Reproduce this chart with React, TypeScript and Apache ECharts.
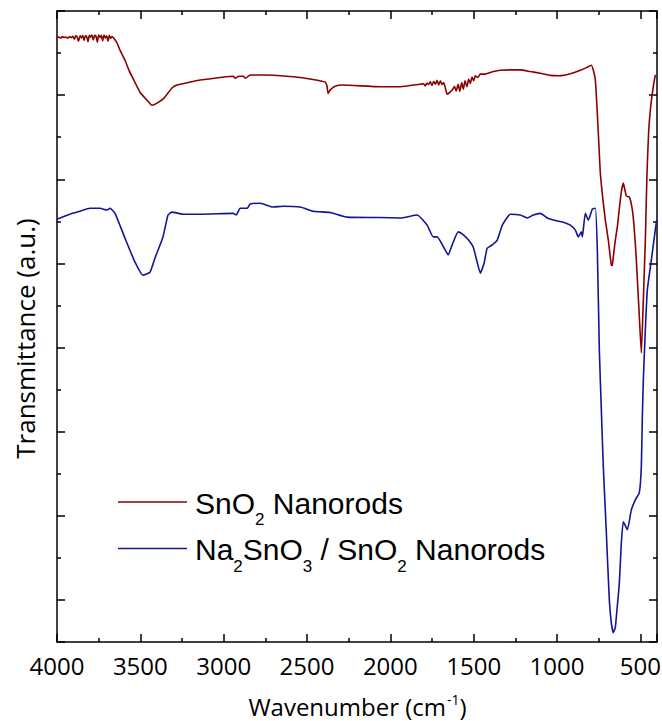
import React, { useEffect, useRef } from "react";
import * as echarts from "echarts";

// ---- data (wavenumber in cm^-1, transmittance in arbitrary units) ----
const redWn = [
  4000, 3990, 3978, 3968, 3956, 3946, 3935, 3925, 3915, 3905, 3896, 3888, 3880, 3871, 3862, 3854, 3846, 3838,
  3830, 3822, 3814, 3806, 3798, 3790, 3782, 3774, 3766, 3758, 3750, 3742, 3734, 3726, 3718, 3710, 3702, 3694,
  3686, 3678, 3670, 3660, 3640, 3622, 3592, 3568, 3538, 3502, 3460, 3430, 3400, 3358, 3310, 3280, 3202, 3141,
  2943, 2931, 2910, 2883, 2870, 2841, 2739, 2541, 2391, 2380, 2373, 2361, 2331, 2289, 2061, 1941,
  1821, 1800, 1790, 1780, 1770, 1760, 1750, 1740, 1730, 1720, 1710, 1700, 1690, 1680, 1671, 1659, 1645, 1629,
  1615, 1605, 1593, 1583, 1572, 1562, 1552, 1540, 1530, 1520, 1510, 1500, 1490, 1475, 1460, 1430, 1400, 1340,
  1280, 1220, 1160, 1100, 1040, 990, 950, 900, 860, 820, 794, 782, 770, 760, 750, 740, 724, 710, 692, 674, 668,
  662, 650, 638, 626, 614, 602, 590, 584, 566, 548, 536, 524, 506, 494, 482, 470, 460, 450, 440, 430, 420, 410,
  400,
];
const redT = [
  143.7, 143.8, 143.6, 143.9, 143.7, 143.8, 143.5, 143.9, 143.7, 144.0, 143.3, 144.1, 143.9, 142.8, 144.1, 143.6,
  144.2, 143.0, 144.1, 143.9, 142.7, 144.2, 143.8, 144.3, 143.1, 144.2, 144.0, 142.6, 144.3, 143.7, 144.2, 142.9,
  144.3, 143.6, 144.1, 142.8, 144.2, 143.5, 143.9, 143.6, 142.4, 140.7, 138.3, 135.9, 133.5, 130.7, 128.8, 127.6,
  128.1, 129.3, 131.7, 132.4, 133.1, 133.6, 134.5, 134.0, 134.5, 134.5, 134.0, 134.8, 134.8, 134.2, 133.1, 132.1,
  130.4, 131.2, 132.1, 132.4, 132.0, 132.0, 132.6, 132.7, 132.2, 132.9, 132.5, 133.2, 132.3, 133.3, 132.6, 133.5,
  132.4, 133.4, 132.5, 133.0, 131.9, 130.2, 130.6, 131.2, 132.1, 131.0, 132.6, 130.9, 133.0, 131.4, 133.4, 132.0,
  133.8, 132.8, 134.3, 133.4, 134.6, 134.2, 135.0, 135.0, 135.4, 135.9, 136.0, 136.0, 135.6, 135.2, 134.7, 134.6,
  134.8, 135.3, 135.9, 136.6, 137.1, 135.9, 133.6, 127.1, 119.3, 111.5, 105.0, 100.3, 95.5, 89.6, 89.5, 91.6,
  95.5, 98.7, 103.0, 107.0, 109.1, 107.0, 106.0, 105.8, 102.7, 98.0, 90.8, 77.3, 68.7, 81.3, 95.5, 111.5, 121.3,
  126.4, 129.8, 132.6, 134.8,
];

const blueWn = [
  4000, 3922, 3862, 3802, 3742, 3700, 3682, 3652, 3592, 3532, 3484, 3442, 3412, 3364, 3334, 3310, 3244, 3141,
  2943, 2925, 2901, 2859, 2841, 2781, 2703, 2643, 2541, 2463, 2361, 2259, 2061, 1941, 1839, 1779, 1743, 1719,
  1671, 1653, 1629, 1593, 1562, 1532, 1503, 1479, 1460, 1437, 1419, 1388, 1358, 1328, 1280, 1220, 1178, 1142,
  1100, 1058, 1022, 962, 920, 890, 872, 854, 848, 830, 812, 788, 770, 758, 746, 734, 722, 704, 686, 674, 662,
  650, 644, 626, 614, 602, 578, 554, 530, 506, 494, 488, 482, 470, 458, 434, 404, 400,
];
const blueT = [
  100.5, 101.7, 102.4, 103.1, 103.1, 102.7, 103.1, 101.9, 96.0, 90.3, 87.2, 87.9, 91.3, 96.3, 101.5, 102.2, 101.7,
  101.7, 101.9, 101.5, 103.1, 103.1, 104.1, 104.3, 103.4, 103.6, 103.4, 102.4, 102.1, 101.0, 100.9, 100.8, 101.5,
  99.1, 96.3, 96.3, 93.2, 92.0, 94.4, 97.5, 96.8, 95.6, 93.9, 90.3, 87.7, 90.1, 93.6, 94.4, 95.6, 99.1, 101.7,
  101.5, 100.8, 101.5, 101.9, 100.8, 100.3, 99.8, 99.1, 97.9, 96.3, 97.5, 96.3, 101.9, 100.3, 102.9, 103.1, 93.2,
  69.4, 55.2, 41.6, 26.0, 10.0, 4.5, 2.2, 3.5, 6.0, 14.0, 23.6, 28.6, 26.7, 31.4, 33.8, 35.5, 41.7, 53.5, 62.3,
  74.2, 83.7, 90.8, 99.8, 100.3,
];

const seriesNames = ["SnO2 Nanorods", "Na2SnO3 / SnO2 Nanorods"];
const xTitle = "Wavenumber (cm";
const yTitle = "Transmittance (a.u.)";

const RED = "#8c0000";
const BLUE = "#141496";
const AXIS_FONT = "Open Sans";
const LEGEND_FONT = "Liberation Sans, Arial, sans-serif";

function zip(xs: number[], ys: number[]) {
  return xs.map((x, i) => [x, ys[i]]);
}

export default function App() {
  const ref = useRef<HTMLDivElement>(null);
  useEffect(() => {
    if (!ref.current) return;
    const chart = echarts.init(ref.current, null, { renderer: "svg" });
    const lineStyle = { color: "#000", width: 1.5 };
    const xBase = {
      type: "value",
      min: 400,
      max: 4000,
      inverse: true,
      splitNumber: 7,
      axisLine: { show: true, onZero: false, lineStyle },
      axisTick: { show: true, inside: true, length: 8, lineStyle },
      minorTick: { show: true, splitNumber: 2, length: 4, lineStyle },
      splitLine: { show: false },
      minorSplitLine: { show: false },
    };
    const yTick = {
      type: "value",
      min: 0,
      max: 150,
      inverse: true,
      interval: 20,
      axisLine: { show: true, onZero: false, lineStyle },
      axisTick: { show: true, inside: true, length: 8, lineStyle },
      minorTick: { show: true, splitNumber: 2, length: 4, lineStyle },
      axisLabel: { show: false },
      splitLine: { show: false },
      minorSplitLine: { show: false },
    };
    const richLegend = {
      n: { fontSize: 30, fontFamily: LEGEND_FONT, lineHeight: 32, fill: "#000" },
      s: { fontSize: 17, fontFamily: LEGEND_FONT, lineHeight: 32, padding: [33, 0, 0, 0], fill: "#000" },
    };
    chart.setOption({
      animation: false,
      backgroundColor: "#fff",
      grid: { left: 57, right: 5, top: 11, bottom: 79, containLabel: false, outerBoundsMode: "none" },
      xAxis: [
        {
          ...xBase,
          position: "bottom",
          axisLabel: {
            show: true,
            margin: 11,
            fontSize: 24,
            fontFamily: AXIS_FONT,
            color: "#000",
            formatter: (v: number) => (v === 400 ? "" : String(v)),
          },
        },
        { ...xBase, position: "top", axisLabel: { show: false } },
      ],
      yAxis: [
        {
          type: "value",
          min: 0,
          max: 150,
          axisLine: { show: false },
          axisTick: { show: false },
          axisLabel: { show: false },
          splitLine: { show: false },
        },
        { ...yTick, position: "left" },
        { ...yTick, position: "right" },
      ],
      series: [
        {
          name: seriesNames[0],
          type: "line",
          data: zip(redWn, redT),
          showSymbol: false,
          smooth: 0.15,
          xAxisIndex: 0,
          yAxisIndex: 0,
          lineStyle: { color: RED, width: 1.6 },
          itemStyle: { color: RED },
        },
        {
          name: seriesNames[1],
          type: "line",
          data: zip(blueWn, blueT),
          showSymbol: false,
          smooth: 0.15,
          xAxisIndex: 0,
          yAxisIndex: 0,
          lineStyle: { color: BLUE, width: 1.6 },
          itemStyle: { color: BLUE },
        },
      ],
      graphic: [
        {
          type: "line",
          shape: { x1: 118, y1: 502, x2: 187, y2: 502 },
          style: { stroke: RED, lineWidth: 1.5 },
        },
        {
          type: "text",
          x: 195,
          y: 503,
          style: {
            text: "{n|SnO}{s|2}{n| Nanorods}",
            rich: richLegend,
            align: "left",
            verticalAlign: "middle",
            fill: "#000",
          },
        },
        {
          type: "line",
          shape: { x1: 118, y1: 548.5, x2: 187, y2: 548.5 },
          style: { stroke: BLUE, lineWidth: 1.5 },
        },
        {
          type: "text",
          x: 195,
          y: 549.5,
          style: {
            text: "{n|Na}{s|2}{n|SnO}{s|3}{n| / SnO}{s|2}{n| Nanorods}",
            rich: richLegend,
            align: "left",
            verticalAlign: "middle",
            fill: "#000",
          },
        },
        {
          type: "text",
          x: 357.5,
          y: 706,
          style: {
            text: "{m|" + xTitle + "}{p|-1}{m|)}",
            rich: {
              m: { fontSize: 24, fontFamily: AXIS_FONT, lineHeight: 24, fill: "#000" },
              p: { fontSize: 14, fontFamily: AXIS_FONT, lineHeight: 24, padding: [0, 0, 13, 1], fill: "#000" },
            },
            align: "center",
            verticalAlign: "middle",
            fill: "#000",
          },
        },
        {
          type: "text",
          x: 25,
          y: 338.5,
          rotation: Math.PI / 2,
          style: {
            text: yTitle,
            fontSize: 26,
            fontFamily: AXIS_FONT,
            align: "center",
            verticalAlign: "middle",
            fill: "#000",
          },
        },
      ],
    });
    return () => chart.dispose();
  }, []);
  return <div ref={ref} style={{ width: 662, height: 721, position: "absolute", left: 0, top: 0 }} />;
}
